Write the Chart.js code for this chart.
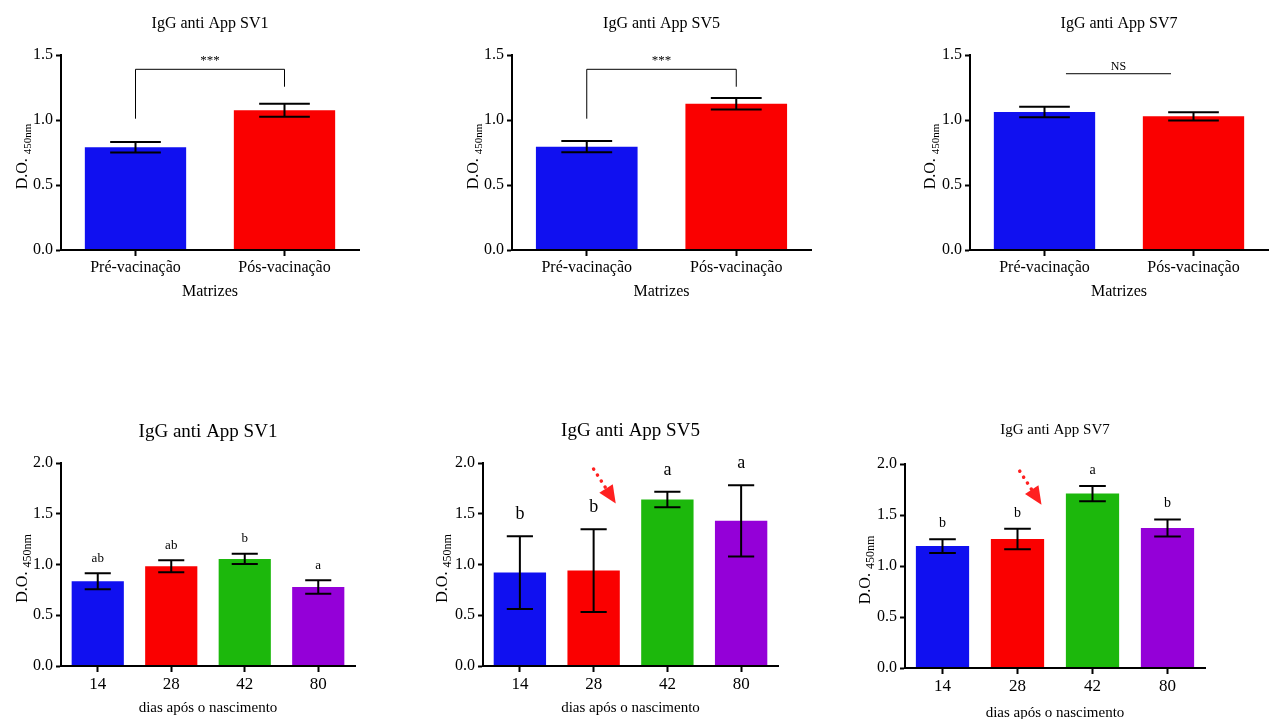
<!DOCTYPE html>
<html>
<head>
<meta charset="utf-8">
<script src="https://cdn.jsdelivr.net/npm/chart.js@4.4.0/dist/chart.umd.min.js"></script>
<style>
  body { margin: 0; background: #fff; width: 1275px; height: 719px; overflow: hidden; position: relative; }
  canvas { position: absolute; }
</style>
</head>
<body>
<canvas id="c1" width="425" height="310" style="left:0;top:0"></canvas>
<canvas id="c2" width="425" height="310" style="left:425px;top:0"></canvas>
<canvas id="c3" width="425" height="310" style="left:850px;top:0"></canvas>
<canvas id="c4" width="425" height="319" style="left:0;top:400px"></canvas>
<canvas id="c5" width="425" height="319" style="left:425px;top:400px"></canvas>
<canvas id="c6" width="425" height="319" style="left:850px;top:400px"></canvas>
<script>
// categories
const matrizLabels = ['Pré-vacinação', 'Pós-vacinação'];
const diasLabels = ['14', '28', '42', '80'];

// matrizes (mean, SEM)
const sv1Matriz = [0.79, 1.075];
const sv1MatrizSem = [0.04, 0.05];
const sv5Matriz = [0.795, 1.125];
const sv5MatrizSem = [0.043, 0.045];
const sv7Matriz = [1.062, 1.028];
const sv7MatrizSem = [0.04, 0.032];

// leitões, dias após o nascimento (mean, SEM)
const sv1Dias = [0.835, 0.983, 1.055, 0.778];
const sv1DiasSem = [0.079, 0.06, 0.051, 0.066];
const sv5Dias = [0.92, 0.94, 1.64, 1.43];
const sv5DiasSem = [0.359, 0.407, 0.076, 0.35];
const sv7Dias = [1.195, 1.264, 1.71, 1.372];
const sv7DiasSem = [0.067, 0.1, 0.075, 0.083];

// significance letters / marks
const sv1Letras = ['ab', 'ab', 'b', 'a'];
const sv5Letras = ['b', 'b', 'a', 'a'];
const sv7Letras = ['b', 'b', 'a', 'b'];
const sigMatriz = ['***', '***', 'NS'];

const matrizColors = ['#1010f0', '#fa0000'];
const diasColors = ['#1010f0', '#fa0000', '#1cb80c', '#9400d8'];

Chart.defaults.font.family = "'Liberation Serif', 'Times New Roman', serif";
Chart.defaults.color = '#000';

function drawArrow(ctx, x0, y0, x1, y1) {
  const ang = Math.atan2(y1 - y0, x1 - x0);
  const head = 18, hw = 8;
  const bx = x1 - Math.cos(ang) * head, by = y1 - Math.sin(ang) * head;
  ctx.strokeStyle = '#ff2020';
  ctx.fillStyle = '#ff2020';
  ctx.lineWidth = 3.5;
  ctx.lineCap = 'round';
  ctx.setLineDash([0.1, 7]);
  ctx.beginPath();
  ctx.moveTo(x0, y0);
  ctx.lineTo(bx, by);
  ctx.stroke();
  ctx.setLineDash([]);
  ctx.beginPath();
  ctx.moveTo(x1, y1);
  ctx.lineTo(bx + Math.sin(ang) * hw, by - Math.cos(ang) * hw);
  ctx.lineTo(bx - Math.sin(ang) * hw, by + Math.cos(ang) * hw);
  ctx.closePath();
  ctx.fill();
}

function extrasPlugin(ex) {
  return {
    id: 'extras',
    afterDraw(chart) {
      const ctx = chart.ctx, a = chart.chartArea;
      const x = chart.scales.x, y = chart.scales.y;
      const meta = chart.getDatasetMeta(0);
      const font = s => s + "px 'Liberation Serif', 'Times New Roman', serif";
      ctx.save();
      ctx.fillStyle = '#000';
      ctx.textAlign = 'center';
      ctx.textBaseline = 'middle';

      // error bars + letters
      ex.values.forEach((v, i) => {
        const bar = meta.data[i];
        const cx = bar.x, hw = bar.width * 0.5 / 2;
        const yt = y.getPixelForValue(v + ex.sem[i]);
        const yb = y.getPixelForValue(v - ex.sem[i]);
        ctx.strokeStyle = '#000';
        ctx.lineWidth = 2;
        ctx.beginPath();
        ctx.moveTo(cx, yt); ctx.lineTo(cx, yb);
        ctx.moveTo(cx - hw, yt); ctx.lineTo(cx + hw, yt);
        ctx.moveTo(cx - hw, yb); ctx.lineTo(cx + hw, yb);
        ctx.stroke();
        if (ex.letters) {
          ctx.font = font(ex.letterSize);
          ctx.fillText(ex.letters[i], cx, yt - ex.letterGap);
        }
      });

      // bracket / NS line
      if (ex.sig) {
        const s = ex.sig;
        const ly = y.getPixelForValue(s.level);
        const x0 = x.getPixelForValue(s.from), x1 = x.getPixelForValue(s.to);
        ctx.strokeStyle = '#000';
        ctx.lineWidth = 1;
        ctx.beginPath();
        if (s.legs) {
          ctx.moveTo(x0, y.getPixelForValue(s.legs[0]));
          ctx.lineTo(x0, ly);
          ctx.lineTo(x1, ly);
          ctx.lineTo(x1, y.getPixelForValue(s.legs[1]));
        } else {
          ctx.moveTo(x0, ly);
          ctx.lineTo(x1, ly);
        }
        ctx.stroke();
        ctx.font = font(s.size);
        ctx.fillText(s.text, (x0 + x1) / 2, ly - s.gap);
      }

      // arrow
      if (ex.arrow) {
        const p = ex.arrow;
        drawArrow(ctx, x.getPixelForValue(p[0]), y.getPixelForValue(p[1]),
                  x.getPixelForValue(p[2]), y.getPixelForValue(p[3]));
      }

      // title
      ctx.fillStyle = '#000';
      ctx.font = font(ex.titleSize);
      ctx.fillText(ex.title, (a.left + a.right) / 2, ex.titleY);

      // x title
      ctx.font = font(ex.xTitleSize);
      ctx.fillText(ex.xTitle, (a.left + a.right) / 2, a.bottom + ex.xTitleGap);

      // y title with subscript
      ctx.translate(a.left - ex.yTitleGap, (a.top + a.bottom) / 2 + 4);
      ctx.rotate(-Math.PI / 2);
      ctx.textAlign = 'left';
      ctx.textBaseline = 'alphabetic';
      ctx.font = font(16);
      const main = 'D.O. ';
      const w1 = ctx.measureText(main).width;
      ctx.font = font(ex.subSize);
      const w2 = ctx.measureText('450nm').width;
      const start = -(w1 + w2) / 2;
      ctx.font = font(16);
      ctx.fillText(main, start, 0);
      ctx.font = font(ex.subSize);
      ctx.fillText('450nm', start + w1, 4);
      ctx.restore();
    }
  };
}

function makeChart(c) {
  const [bx, by, bw, bh] = c.box;
  const [L, T, R, B] = c.area;
  new Chart(document.getElementById(c.id), {
    type: 'bar',
    data: {
      labels: c.labels,
      datasets: [{
        data: c.values,
        backgroundColor: c.colors,
        borderWidth: 0,
        barPercentage: c.barPct,
        categoryPercentage: 1
      }]
    },
    options: {
      responsive: false,
      animation: false,
      layout: { padding: { left: 0, top: T - by, right: bx + bw - R, bottom: 0 } },
      plugins: { legend: { display: false }, tooltip: { enabled: false }, title: { display: false } },
      scales: {
        x: {
          grid: { display: true, drawOnChartArea: false, offset: false, tickLength: 6, tickWidth: 2, color: '#000' },
          border: { display: true, color: '#000', width: 2, z: 1 },
          ticks: { font: { size: c.xTickSize }, color: '#000', padding: 2, maxRotation: 0 },
          afterFit(s) { s.height = by + bh - B; }
        },
        y: {
          min: 0,
          max: c.yMax,
          grid: { display: true, drawOnChartArea: false, tickLength: 5, tickWidth: 2, color: '#000' },
          border: { display: true, color: '#000', width: 2, z: 1 },
          ticks: { stepSize: 0.5, font: { size: 16 }, color: '#000', padding: 3,
                   callback: v => v.toFixed(1) },
          afterFit(s) { s.width = L - bx; }
        }
      }
    },
    plugins: [extrasPlugin(c)]
  });
}

const charts = [
  { id: 'c1', box: [0, 0, 425, 310], area: [61, 55, 359, 250], labels: matrizLabels,
    values: sv1Matriz, sem: sv1MatrizSem, colors: matrizColors, yMax: 1.5, barPct: 0.68,
    title: 'IgG anti App SV1', titleSize: 16, titleY: 24, xTitle: 'Matrizes', xTitleGap: 42, xTitleSize: 16,
    xTickSize: 16, yTitleGap: 34, subSize: 11,
    sig: { text: sigMatriz[0], level: 1.39, legs: [1.01, 1.256], from: 0, to: 1, size: 13, gap: 9 } },
  { id: 'c2', box: [425, 0, 425, 310], area: [512, 55, 811, 250], labels: matrizLabels,
    values: sv5Matriz, sem: sv5MatrizSem, colors: matrizColors, yMax: 1.5, barPct: 0.68,
    title: 'IgG anti App SV5', titleSize: 16, titleY: 24, xTitle: 'Matrizes', xTitleGap: 42, xTitleSize: 16,
    xTickSize: 16, yTitleGap: 34, subSize: 11,
    sig: { text: sigMatriz[1], level: 1.39, legs: [1.01, 1.256], from: 0, to: 1, size: 13, gap: 9 } },
  { id: 'c3', box: [850, 0, 425, 310], area: [970, 55, 1268, 250], labels: matrizLabels,
    values: sv7Matriz, sem: sv7MatrizSem, colors: matrizColors, yMax: 1.5, barPct: 0.68,
    title: 'IgG anti App SV7', titleSize: 16, titleY: 24, xTitle: 'Matrizes', xTitleGap: 42, xTitleSize: 16,
    xTickSize: 16, yTitleGap: 35, subSize: 11,
    sig: { text: sigMatriz[2], level: 1.356, legs: null, from: 0.144, to: 0.849, size: 12, gap: 7 } },
  { id: 'c4', box: [0, 400, 425, 319], area: [61, 463, 355, 666], labels: diasLabels,
    values: sv1Dias, sem: sv1DiasSem, colors: diasColors, yMax: 2.0, barPct: 0.71,
    title: 'IgG anti App SV1', titleSize: 19, titleY: 432, xTitle: 'dias após o nascimento', xTitleGap: 42, xTitleSize: 15,
    xTickSize: 17, yTitleGap: 34, subSize: 12, letters: sv1Letras, letterSize: 13, letterGap: 15 },
  { id: 'c5', box: [425, 400, 425, 319], area: [483, 463, 778, 666], labels: diasLabels,
    values: sv5Dias, sem: sv5DiasSem, colors: diasColors, yMax: 2.0, barPct: 0.71,
    title: 'IgG anti App SV5', titleSize: 19, titleY: 431, xTitle: 'dias após o nascimento', xTitleGap: 42, xTitleSize: 15,
    xTickSize: 17, yTitleGap: 36, subSize: 12, letters: sv5Letras, letterSize: 18, letterGap: 22,
    arrow: [1.0, 1.94, 1.30, 1.60] },
  { id: 'c6', box: [850, 400, 425, 319], area: [905, 464, 1205, 668], labels: diasLabels,
    values: sv7Dias, sem: sv7DiasSem, colors: diasColors, yMax: 2.0, barPct: 0.71,
    title: 'IgG anti App SV7', titleSize: 15, titleY: 430, xTitle: 'dias após o nascimento', xTitleGap: 45, xTitleSize: 15,
    xTickSize: 17, yTitleGap: 35, subSize: 12, letters: sv7Letras, letterSize: 14, letterGap: 16,
    arrow: [1.03, 1.93, 1.32, 1.60] }
];

// titles use page y; convert to canvas-local y
charts.forEach(c => {
  c.titleY = c.titleY - c.box[1];
  makeChart(c);
});
</script>
</body>
</html>
